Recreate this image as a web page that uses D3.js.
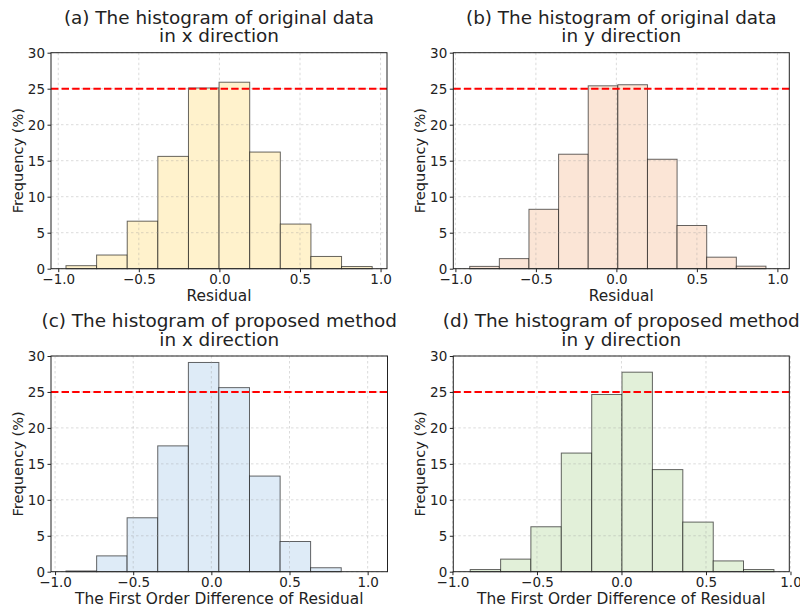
<!DOCTYPE html>
<html>
<head>
<meta charset="utf-8">
<script src="https://cdn.jsdelivr.net/npm/d3@7"></script>
<style>
  html, body { margin: 0; padding: 0; background: #fff; }
  svg { display: block; font-family: 'DejaVu Sans', sans-serif; }
</style>
</head>
<body>
<div id="chart-area"></div>
<script>
// titles and axis labels
const titles = [
  ['(a) The histogram of original data', 'in x direction'],
  ['(b) The histogram of original data', 'in y direction'],
  ['(c) The histogram of proposed method', 'in x direction'],
  ['(d) The histogram of proposed method', 'in y direction'],
];
const xLabels = ['Residual', 'Residual', 'The First Order Difference of Residual', 'The First Order Difference of Residual'];
const yLabel = 'Frequency (%)';
const xTicks = [-1.0, -0.5, 0.0, 0.5, 1.0];
const yTicks = [0, 5, 10, 15, 20, 25, 30];
const refLine = 25;

// bin edges (10 bins each)
const aEdges = [-0.952, -0.762, -0.572, -0.382, -0.192, -0.002, 0.188, 0.378, 0.568, 0.758, 0.948];
const bEdges = [-0.911, -0.727, -0.543, -0.359, -0.175, 0.009, 0.193, 0.377, 0.561, 0.745, 0.929];
const cEdges = [-0.930, -0.734, -0.539, -0.343, -0.147, 0.048, 0.244, 0.440, 0.635, 0.831, 1.027];
const dEdges = [-0.895, -0.715, -0.536, -0.356, -0.176, 0.003, 0.183, 0.363, 0.543, 0.722, 0.902];

// frequencies (%)
const aFreq = [0.42, 1.9, 6.6, 15.6, 25.1, 25.9, 16.2, 6.2, 1.7, 0.3];
const bFreq = [0.32, 1.4, 8.25, 15.9, 25.4, 25.55, 15.2, 6.0, 1.6, 0.35];
const cFreq = [0.1, 2.2, 7.5, 17.5, 29.1, 25.6, 13.3, 4.2, 0.55, 0];
const dFreq = [0.3, 1.75, 6.25, 16.5, 24.65, 27.75, 14.2, 6.9, 1.5, 0.3];

// x limits of each panel
const xDomains = [[-1.045, 1.04], [-1.013, 1.074], [-1.026, 1.127], [-0.995, 0.993]];

const colors = ['#fff2cc', '#fbe5d6', '#deebf7', '#e2f0d9'];

let width = 800;
let height = 607;
let boxes = [
  { left: 51, right: 387, top: 52.7, bottom: 268.7 },
  { left: 453.3, right: 789.3, top: 52.7, bottom: 268.7 },
  { left: 51, right: 387.5, top: 356, bottom: 571.7 },
  { left: 453.3, right: 789.3, top: 356, bottom: 571.7 },
];

let edgesList = [aEdges, bEdges, cEdges, dEdges];
let freqList = [aFreq, bFreq, cFreq, dFreq];

let svg = d3
  .select('#chart-area')
  .append('svg')
  .attr('width', width)
  .attr('height', height);

svg.append('rect').attr('width', width).attr('height', height).attr('fill', '#fff');

boxes.forEach((box, i) => {
  let bins = freqList[i].map((f, j) => ({ x0: edgesList[i][j], x1: edgesList[i][j + 1], f: f }));

  let xScale = d3.scaleLinear().domain(xDomains[i]).range([box.left, box.right]);
  let yScale = d3.scaleLinear().domain([0, 30]).range([box.bottom, box.top]);

  let g = svg.append('g').attr('class', 'panel');

  //bars
  g.append('g')
    .selectAll('rect')
    .data(bins.filter((d) => d.f > 0))
    .enter()
    .append('rect')
    .attr('x', (d) => xScale(d.x0))
    .attr('width', (d) => xScale(d.x1) - xScale(d.x0))
    .attr('y', (d) => yScale(d.f))
    .attr('height', (d) => yScale(0) - yScale(d.f))
    .attr('fill', colors[i])
    .attr('stroke', '#000')
    .attr('stroke-opacity', 0.6)
    .attr('stroke-width', 1);

  //grid
  let grid = g.append('g').attr('class', 'grid');
  grid
    .selectAll('line.gx')
    .data(xTicks)
    .enter()
    .append('line')
    .attr('x1', (d) => xScale(d))
    .attr('x2', (d) => xScale(d))
    .attr('y1', box.top)
    .attr('y2', box.bottom);
  grid
    .selectAll('line.gy')
    .data(yTicks)
    .enter()
    .append('line')
    .attr('x1', box.left)
    .attr('x2', box.right)
    .attr('y1', (d) => yScale(d))
    .attr('y2', (d) => yScale(d));
  grid
    .selectAll('line')
    .attr('stroke', '#999')
    .attr('stroke-opacity', 0.45)
    .attr('stroke-width', 0.8)
    .attr('stroke-dasharray', '2.5,2.5');

  //reference line at 25%
  g.append('line')
    .attr('x1', box.left)
    .attr('x2', box.right)
    .attr('y1', yScale(refLine))
    .attr('y2', yScale(refLine))
    .attr('stroke', '#ff0000')
    .attr('stroke-width', 2)
    .attr('stroke-dasharray', '7.4,3.2');

  //frame
  g.append('rect')
    .attr('x', box.left)
    .attr('y', box.top)
    .attr('width', box.right - box.left)
    .attr('height', box.bottom - box.top)
    .attr('fill', 'none')
    .attr('stroke', '#222')
    .attr('stroke-width', 1);

  //axes
  let xAxis = d3
    .axisBottom(xScale)
    .tickValues(xTicks)
    .tickFormat(d3.format('.1f'))
    .tickSize(3.5)
    .tickPadding(2);
  let yAxis = d3.axisLeft(yScale).tickValues(yTicks).tickSize(3.5).tickPadding(2.5);

  let gx = g.append('g').attr('transform', `translate(0, ${box.bottom})`).call(xAxis);
  let gy = g.append('g').attr('transform', `translate(${box.left}, 0)`).call(yAxis);
  [gx, gy].forEach((ax) => {
    ax.select('.domain').remove();
    ax.selectAll('line').attr('stroke', '#222');
    ax.selectAll('text')
      .attr('fill', '#222')
      .style('font-family', "'DejaVu Sans', sans-serif")
      .style('font-size', '13.5px');
  });

  //axis labels
  g.append('text')
    .attr('x', (box.left + box.right) / 2)
    .attr('y', box.bottom + 32.5)
    .attr('text-anchor', 'middle')
    .attr('font-size', '15.4px')
    .attr('fill', '#222')
    .text(xLabels[i]);

  g.append('text')
    .attr('transform', `translate(${box.left - 28.5}, ${(box.top + box.bottom) / 2}) rotate(-90)`)
    .attr('text-anchor', 'middle')
    .attr('font-size', '14.6px')
    .attr('fill', '#222')
    .text(yLabel);

  //title, two lines
  titles[i].forEach((line, k) => {
    g.append('text')
      .attr('x', (box.left + box.right) / 2)
      .attr('y', box.top - 29 + k * 18.7)
      .attr('text-anchor', 'middle')
      .attr('font-size', '18.4px')
      .attr('fill', '#222')
      .text(line);
  });
});
</script>
</body>
</html>
